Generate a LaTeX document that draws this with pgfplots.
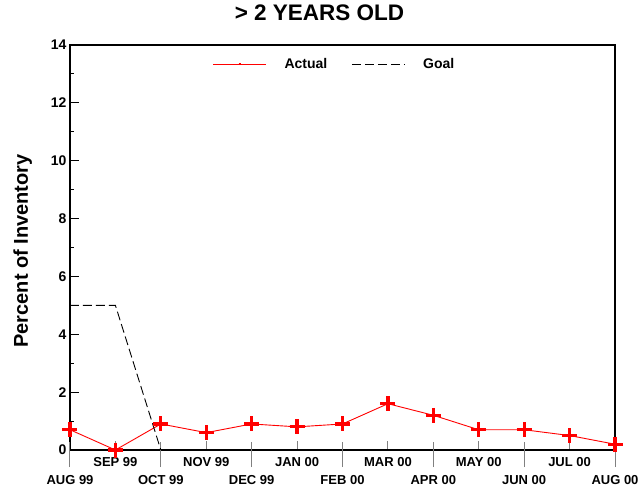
\documentclass[border=0pt]{standalone}
\usepackage{fontspec}
\setmainfont{Liberation Sans}
\usepackage{pgfplots}
\pgfplotsset{compat=1.18}
\begin{document}
\begin{tikzpicture}
\begin{axis}[
  name=ax,
  scale only axis,
  width=545pt, height=405pt,
  xmin=0, xmax=12, ymin=0, ymax=14,
  axis line style={line width=1.2pt},
  xtick pos=bottom, ytick pos=left,
  /pgf/number format/assume math mode=true,
  ytick={0,2,...,14},
  minor y tick num=1,
  tick align=inside,
  major tick length=9pt, minor tick length=4pt,
  every tick/.style={black, line width=1pt},
  yticklabel style={font=\fontsize{14}{16}\selectfont\bfseries},
  xtick={1,3,5,7,9,11},
  xticklabels={SEP 99,NOV 99,JAN 00,MAR 00,MAY 00,JUL 00},
  x tick style={gray, line width=1pt},
  xticklabel style={font=\fontsize{13}{15}\selectfont\bfseries, yshift=-4pt},
  extra x ticks={0,2,4,6,8,10,12},
  extra x tick labels={\raisebox{-5.5pt}[9pt][0pt]{AUG 99},\raisebox{-5.5pt}[9pt][0pt]{OCT 99},\raisebox{-5.5pt}[9pt][0pt]{DEC 99},\raisebox{-5.5pt}[9pt][0pt]{FEB 00},\raisebox{-5.5pt}[9pt][0pt]{APR 00},\raisebox{-5.5pt}[9pt][0pt]{JUN 00},\raisebox{-5.5pt}[9pt][0pt]{AUG 00}},
  extra x tick style={major tick length=25pt, tick align=center, major tick style={black, yshift=-4.5pt}},
  legend style={draw=none, fill=none, legend columns=-1,
    at={(0.4853,0.953)}, anchor=center,
    font=\fontsize{14}{16}\selectfont\bfseries,
    /tikz/every odd column/.append style={column sep=16pt},
    /tikz/every even column/.append style={column sep=22pt}},
]
\addplot[red, line width=0.9pt, mark=+, mark size=7.5pt, mark options={line width=3.2pt, solid},
  legend image code/.code={\draw[red, line width=0.9pt] (0pt,0pt) -- (53pt,0pt); \draw[red, line width=1.2pt] (25.5pt,0pt) -- (27.5pt,0pt);}]
coordinates {(0,0.7) (1,0) (2,0.9) (3,0.6) (4,0.9) (5,0.8) (6,0.9) (7,1.6) (8,1.2) (9,0.7) (10,0.7) (11,0.5) (12,0.2)};
\addlegendentry{Actual}
\addplot[black, line width=0.9pt, dash pattern=on 9pt off 4pt,
  legend image code/.code={\draw[black, line width=0.9pt, dash pattern=on 9pt off 4pt] (0pt,0pt) -- (53pt,0pt);}]
coordinates {(0,5) (1,5) (2,0)};
\addlegendentry{Goal}
\end{axis}
\node[font=\fontsize{22.5}{26}\selectfont\bfseries, anchor=base] at (249.5pt,429pt) {> 2 YEARS OLD};
\node[font=\fontsize{20}{24}\selectfont\bfseries, rotate=90, anchor=base] at (-42pt,199pt) {Percent of Inventory};
\pgfresetboundingbox
\path[use as bounding box] (-70pt,-38pt) rectangle (568pt,450pt);
\end{tikzpicture}
\end{document}
